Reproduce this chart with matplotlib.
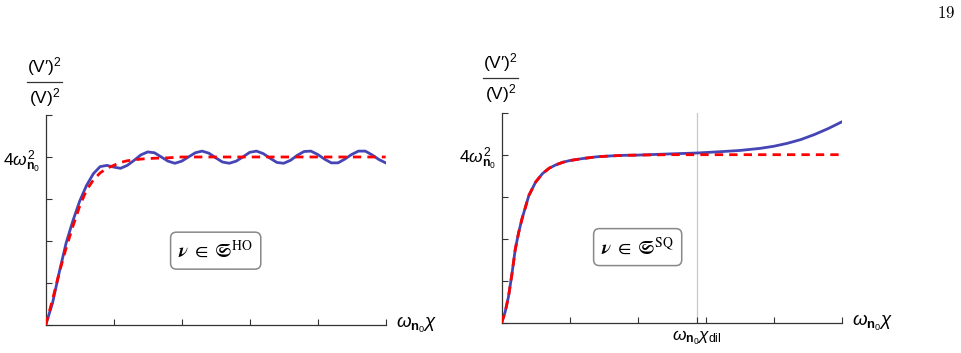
import numpy as np
import matplotlib
matplotlib.use("Agg")
import matplotlib.pyplot as plt

plt.rcParams["font.family"] = ["Liberation Sans", "DejaVu Sans"]
plt.rcParams["mathtext.fontset"] = "custom"
plt.rcParams["mathtext.rm"] = "Liberation Sans"
plt.rcParams["mathtext.it"] = "Liberation Sans:italic"
plt.rcParams["mathtext.bf"] = "Liberation Sans:bold"

# ---- data (x in units of omega*chi, y with plateau at 4) ----
# left panel: harmonic oscillator
ho_x = [0.0, 0.1, 0.2, 0.3, 0.4, 0.5, 0.6, 0.7, 0.8, 0.9, 1.0,
        1.1, 1.2, 1.3, 1.4, 1.5, 1.6, 1.7, 1.8, 1.9, 2.0,
        2.1, 2.2, 2.3, 2.4, 2.5, 2.6, 2.7, 2.8, 2.9, 3.0,
        3.1, 3.2, 3.3, 3.4, 3.5, 3.6, 3.7, 3.8, 3.9, 4.0,
        4.1, 4.2, 4.3, 4.4, 4.5, 4.6, 4.7, 4.8, 4.9, 5.0]
ho_exact = [0.0, 0.52, 1.26, 1.95, 2.48, 2.95, 3.32, 3.6, 3.77, 3.8, 3.76,
            3.73, 3.8, 3.92, 4.05, 4.12, 4.1, 4.0, 3.9, 3.85, 3.9,
            4.0, 4.1, 4.14, 4.09, 3.98, 3.88, 3.85, 3.9, 4.0, 4.11,
            4.14, 4.08, 3.97, 3.87, 3.85, 3.92, 4.04, 4.13, 4.14, 4.06,
            3.95, 3.86, 3.86, 3.95, 4.06, 4.14, 4.14, 4.05, 3.94, 3.86]
ho_approx_x = [0.0, 0.1, 0.2, 0.3, 0.4, 0.5, 0.6, 0.7, 0.8, 0.9, 1.0,
               1.1, 1.2, 1.4, 1.6, 1.8, 2.0, 5.0]
ho_approx = [0.0, 0.6, 1.25, 1.83, 2.35, 2.83, 3.21, 3.45, 3.62, 3.73, 3.8,
             3.87, 3.91, 3.95, 3.97, 3.98, 4.0, 4.0]

# right panel: squeezed state
sq_x = [0.0, 0.05, 0.1, 0.15, 0.2, 0.25, 0.3, 0.4, 0.5, 0.6, 0.7, 0.8,
        0.9, 1.0, 1.2, 1.4, 1.6, 1.8, 2.0, 2.5, 2.87, 3.2, 3.5, 3.8,
        4.0, 4.2, 4.4, 4.6, 4.8, 5.0]
sq_exact = [0.0, 0.25, 0.62, 1.15, 1.75, 2.15, 2.48, 3.03, 3.35, 3.55, 3.68, 3.76,
            3.82, 3.86, 3.91, 3.95, 3.97, 3.985, 3.99, 4.02, 4.04, 4.07, 4.1, 4.15,
            4.2, 4.27, 4.36, 4.48, 4.62, 4.78]
sq_approx_x = [0.0, 0.05, 0.1, 0.15, 0.2, 0.25, 0.3, 0.4, 0.5, 0.6, 0.7, 0.8,
               0.9, 1.0, 1.2, 1.4, 1.6, 1.8, 2.0, 2.5, 5.0]
sq_approx = [0.0, 0.25, 0.62, 1.15, 1.75, 2.15, 2.48, 3.03, 3.35, 3.55, 3.68, 3.76,
             3.82, 3.86, 3.91, 3.95, 3.97, 3.985, 3.99, 4.0, 4.0]
chi_dil = 2.87

BLUE = "#4545b5"
RED = "#ff0000"
W = r"$4\omega^2_{\mathbf{n}_0}$"
XLAB = r"$\omega_{\mathbf{n}_0}\chi$"


def style_axes(ax):
    ax.set_xlim(0, 5)
    ax.set_ylim(0, 5)
    for s in ("top", "right"):
        ax.spines[s].set_visible(False)
    for s in ("left", "bottom"):
        ax.spines[s].set_color("#333333")
        ax.spines[s].set_linewidth(0.9)
    ax.set_yticks([0, 1, 2, 3, 4, 5])
    ax.set_yticklabels(["", "", "", "", W, ""], fontsize=12.5)
    ax.tick_params(direction="in", length=4, width=0.8, color="#333333", pad=4)
    ax.text(1.03, 0.0, XLAB, transform=ax.transAxes, fontsize=13.5,
            ha="left", va="center")


def y_fraction(fig, xc, ybar):
    fig.text(xc, ybar + 0.01, "(V\u2032)$^2$", fontsize=12.5, ha="center", va="bottom")
    fig.text(xc, ybar - 0.012, "(V)$^2$", fontsize=12.5, ha="center", va="top")
    fig.add_artist(plt.Line2D([xc - 0.018, xc + 0.018], [ybar, ybar],
                              transform=fig.transFigure, color="#333333", lw=0.9))


def state_box(ax, x, y, label):
    ax.text(x, y, r"$\boldsymbol{\nu}\;\in\;\mathfrak{S}^{\mathrm{" + label + "}}$",
            math_fontfamily="stix", fontsize=14, ha="center", va="center",
            bbox=dict(boxstyle="round,pad=0.4,rounding_size=0.3", fc="white",
                      ec="#888888", lw=1.1))


fig = plt.figure(figsize=(9.62, 3.53), dpi=100)

ax1 = fig.add_axes([0.0475, 0.0793, 0.3534, 0.595])
ax1.plot(ho_x, ho_exact, color=BLUE, lw=2.0, zorder=2)
ax1.plot(ho_approx_x, ho_approx, color=RED, lw=2.0, ls=(0, (3, 2.2)), zorder=3)
style_axes(ax1)
ax1.set_xticks([0, 1, 2, 3, 4, 5])
ax1.set_xticklabels([])
state_box(ax1, 2.5, 1.77, "HO")
y_fraction(fig, 0.0465, 1 - 82 / 353)

ax2 = fig.add_axes([0.5215, 0.0858, 0.3534, 0.595])
ax2.axvline(chi_dil, color="#c8c8c8", lw=0.9, zorder=1)
ax2.plot(sq_x, sq_exact, color=BLUE, lw=2.0, zorder=2)
ax2.plot(sq_approx_x, sq_approx, color=RED, lw=2.0, ls=(0, (3, 2.2)), zorder=3)
style_axes(ax2)
ax2.set_xticks([0, 1, 2, chi_dil, 3, 4, 5])
ax2.set_xticklabels(["", "", "", r"$\omega_{\mathbf{n}_0}\chi_{\mathrm{dil}}$", "", "", ""],
                    fontsize=12.5)
state_box(ax2, 2.0, 1.8, "SQ")
y_fraction(fig, 0.5205, 1 - 78 / 353)

fig.text(0.993, 0.962, r"$19$", math_fontfamily="cm", fontsize=12,
         ha="right", va="center")

fig.savefig("out.png", dpi=100)
